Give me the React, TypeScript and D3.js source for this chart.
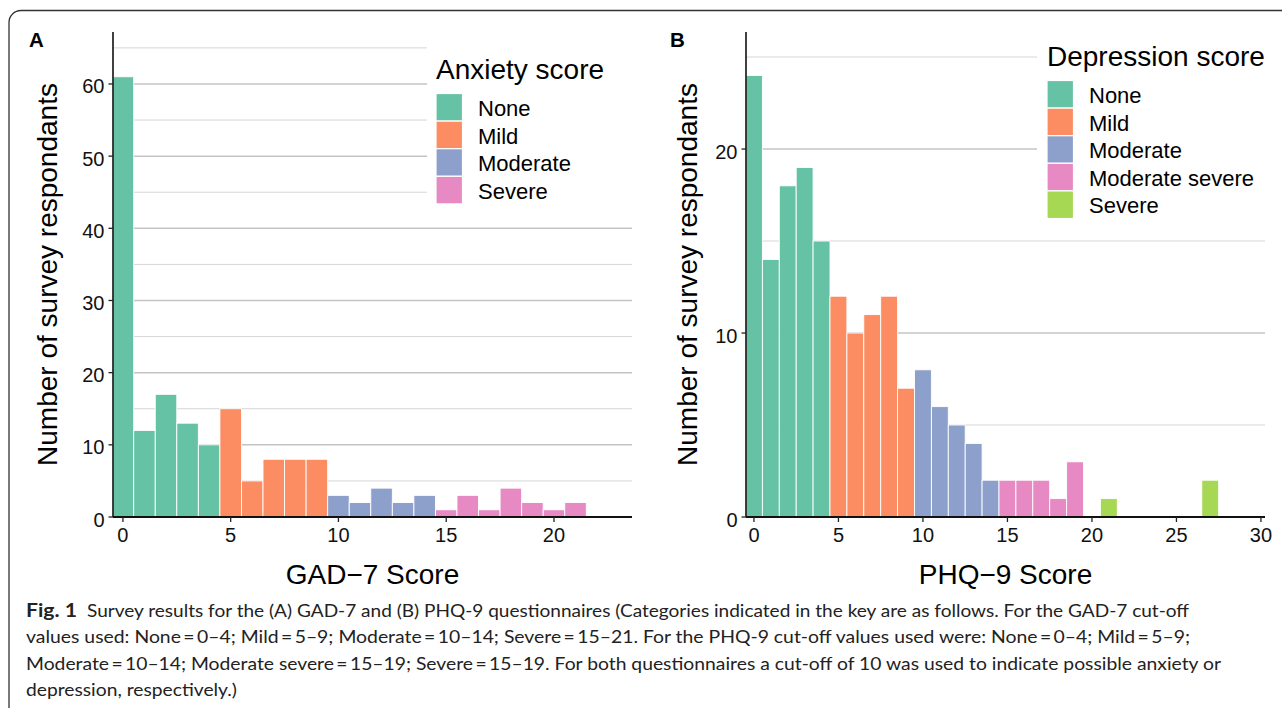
import React from "react";
import * as d3 from "d3";

// ---------- data ----------
const gadScores = d3.range(0, 22);
const gadCounts = [61, 12, 17, 13, 10, 15, 5, 8, 8, 8, 3, 2, 4, 2, 3, 1, 3, 1, 4, 2, 1, 2];
const gadCategories = ["None", "Mild", "Moderate", "Severe"];
const gadCutoffs = [5, 10, 15];
const gadYTicks = [0, 10, 20, 30, 40, 50, 60];
const gadYMinor = [5, 15, 25, 35, 45, 55, 65];
const gadXTicks = [0, 5, 10, 15, 20];

const phqScores = d3.range(0, 28);
const phqCounts = [24, 14, 18, 19, 15, 12, 10, 11, 12, 7, 8, 6, 5, 4, 2, 2, 2, 2, 1, 3, 0, 1, 0, 0, 0, 0, 0, 2];
const phqCategories = ["None", "Mild", "Moderate", "Moderate severe", "Severe"];
const phqCutoffs = [5, 10, 15, 20];
const phqYTicks = [0, 10, 20];
const phqYMinor = [5, 15, 25];
const phqXTicks = [0, 5, 10, 15, 20, 25, 30];

const palette = ["#66C2A5", "#FC8D62", "#8DA0CB", "#E78AC3", "#A6D854"];

const captionLines = [
  "Survey results for the (A) GAD-7 and (B) PHQ-9 questionnaires (Categories indicated in the key are as follows. For the GAD-7 cut-off",
  "values used: None\u2009=\u20090–4; Mild\u2009=\u20095–9; Moderate\u2009=\u200910–14; Severe\u2009=\u200915–21. For the PHQ-9 cut-off values used were: None\u2009=\u20090–4; Mild\u2009=\u20095–9;",
  "Moderate\u2009=\u200910–14; Moderate severe\u2009=\u200915–19; Severe\u2009=\u200915–19. For both questionnaires a cut-off of 10 was used to indicate possible anxiety or",
  "depression, respectively.)",
];

const FONT = "'Liberation Sans', Arial, Helvetica, sans-serif";

type PanelProps = {
  label: string;
  scores: number[];
  counts: number[];
  categories: string[];
  cutoffs: number[];
  yTicks: number[];
  yMinor: number[];
  xTicks: number[];
  xDomain: [number, number];
  yMax: number;
  left: number;
  right: number;
  legendTitle: string;
  legendX: number;
  legendTitleY: number;
  legendKeyTop: number;
  legendBg: [number, number, number, number];
  xTitle: string;
  yTitleX: number;
  labelX: number;
};

function Panel(p: PanelProps) {
  const top = 32;
  const bottom = 517;
  const x = d3.scaleLinear().domain(p.xDomain).range([p.left, p.right]);
  const y = d3.scaleLinear().domain([0, p.yMax]).range([bottom, top]);
  const cat = d3.scaleThreshold<number, string>().domain(p.cutoffs).range(p.categories);
  const color = d3.scaleOrdinal<string, string>().domain(p.categories).range(palette);
  const keyH = 27.6;
  return (
    <g>
      {/* grid */}
      {p.yMinor.map((v) => (
        <line key={"mn" + v} x1={p.left} x2={p.right} y1={y(v)} y2={y(v)} stroke="#d6d6d6" strokeWidth={1} />
      ))}
      {p.yTicks.map((v) => (
        <line key={"mj" + v} x1={p.left} x2={p.right} y1={y(v)} y2={y(v)} stroke="#c4c4c4" strokeWidth={1.5} />
      ))}
      {/* bars */}
      {p.scores.map((s, i) => {
        const c = p.counts[i];
        if (!c) return null;
        const x0 = Math.max(x(s - 0.5), p.left);
        const x1 = x(s + 0.5);
        return (
          <rect
            key={"b" + s}
            x={x0}
            y={y(c)}
            width={x1 - x0}
            height={y(0) - y(c)}
            fill={color(cat(s))}
            stroke="#ffffff"
            strokeWidth={0.9}
          />
        );
      })}
      {/* legend */}
      <rect x={p.legendBg[0]} y={p.legendBg[1]} width={p.legendBg[2]} height={p.legendBg[3]} fill="#ffffff" />
      <text x={p.legendX} y={p.legendTitleY} fontFamily={FONT} fontSize={28} fill="#000">
        {p.legendTitle}
      </text>
      {p.categories.map((c, i) => (
        <g key={"lg" + c}>
          <rect
            x={p.legendX}
            y={p.legendKeyTop + i * keyH}
            width={26.5}
            height={keyH}
            fill={color(c)}
            stroke="#ffffff"
            strokeWidth={1.2}
          />
          <text
            x={p.legendX + 42}
            y={p.legendKeyTop + i * keyH + 22.5}
            fontFamily={FONT}
            fontSize={22}
            fill="#000"
          >
            {c}
          </text>
        </g>
      ))}
      {/* axes */}
      <line x1={p.left} x2={p.left} y1={top} y2={bottom} stroke="#111" strokeWidth={1.6} />
      <line x1={p.left} x2={p.right} y1={bottom} y2={bottom} stroke="#111" strokeWidth={2} />
      {p.yTicks.map((v) => (
        <g key={"yt" + v}>
          <line x1={p.left - 4.5} x2={p.left} y1={y(v)} y2={y(v)} stroke="#222" strokeWidth={1.3} />
          <text x={p.left - 8.5} y={y(v) + 9.5} textAnchor="end" fontFamily={FONT} fontSize={20} fill="#111">
            {v}
          </text>
        </g>
      ))}
      {p.xTicks.map((v) => (
        <g key={"xt" + v}>
          <line x1={x(v)} x2={x(v)} y1={bottom} y2={bottom + 5} stroke="#222" strokeWidth={1.3} />
          <text x={x(v)} y={542} textAnchor="middle" fontFamily={FONT} fontSize={20} fill="#111">
            {v}
          </text>
        </g>
      ))}
      {/* titles */}
      <text
        x={(p.left + p.right) / 2}
        y={584}
        textAnchor="middle"
        fontFamily={FONT}
        fontSize={28}
        fill="#000"
      >
        {p.xTitle}
      </text>
      <text
        transform={`translate(${p.yTitleX},${(top + bottom) / 2}) rotate(-90)`}
        textAnchor="middle"
        fontFamily={FONT}
        fontSize={28}
        fill="#000"
      >
        Number of survey respondants
      </text>
      <text x={p.labelX} y={47} fontFamily={FONT} fontSize={20.5} fontWeight="bold" fill="#000">
        {p.label}
      </text>
    </g>
  );
}

export default function App() {
  const capFont = "Lato, 'Open Sans', 'Noto Sans', sans-serif";
  const capBase = [617, 643.3, 669.6, 695.9];
  const capEnds = [1189, 1190, 1221, 237];
  return (
    <svg
      width={1282}
      height={708}
      viewBox="0 0 1282 708"
      style={{ position: "absolute", left: 0, top: 0, display: "block", background: "#fff" }}
    >
      <rect x={0} y={0} width={1282} height={708} fill="#ffffff" />
      <rect x={9} y={10.5} width={1300} height={730} rx={12} ry={12} fill="none" stroke="#333" strokeWidth={1.3} />
      <Panel
        label="A"
        scores={gadScores}
        counts={gadCounts}
        categories={gadCategories}
        cutoffs={gadCutoffs}
        yTicks={gadYTicks}
        yMinor={gadYMinor}
        xTicks={gadXTicks}
        xDomain={[-0.46, 23.62]}
        yMax={67.2}
        left={113}
        right={632}
        legendTitle="Anxiety score"
        legendX={436}
        legendTitleY={79}
        legendKeyTop={93.5}
        legendBg={[427, 36, 213, 177]}
        xTitle="GAD−7 Score"
        yTitleX={57}
        labelX={29}
      />
      <Panel
        label="B"
        scores={phqScores}
        counts={phqCounts}
        categories={phqCategories}
        cutoffs={phqCutoffs}
        yTicks={phqYTicks}
        yMinor={phqYMinor}
        xTicks={phqXTicks}
        xDomain={[-0.47, 30.24]}
        yMax={26.36}
        left={746}
        right={1265}
        legendTitle="Depression score"
        legendX={1047}
        legendTitleY={66}
        legendKeyTop={80.5}
        legendBg={[1037, 36, 245, 191]}
        xTitle="PHQ−9 Score"
        yTitleX={697}
        labelX={670}
      />
      {/* caption */}
      <text x={26} y={capBase[0]} fontFamily={capFont} fontSize={18} fontWeight="bold" fill="#222" textLength={51} lengthAdjust="spacingAndGlyphs">
        Fig. 1
      </text>
      <text x={87} y={capBase[0]} fontFamily={capFont} fontSize={18} fill="#222" textLength={capEnds[0] - 87} lengthAdjust="spacingAndGlyphs">
        {captionLines[0]}
      </text>
      {captionLines.slice(1).map((t, i) => (
        <text
          key={"cap" + i}
          x={26}
          y={capBase[i + 1]}
          fontFamily={capFont}
          fontSize={18}
          fill="#222"
          textLength={capEnds[i + 1] - 26}
          lengthAdjust="spacingAndGlyphs"
        >
          {t}
        </text>
      ))}
    </svg>
  );
}
